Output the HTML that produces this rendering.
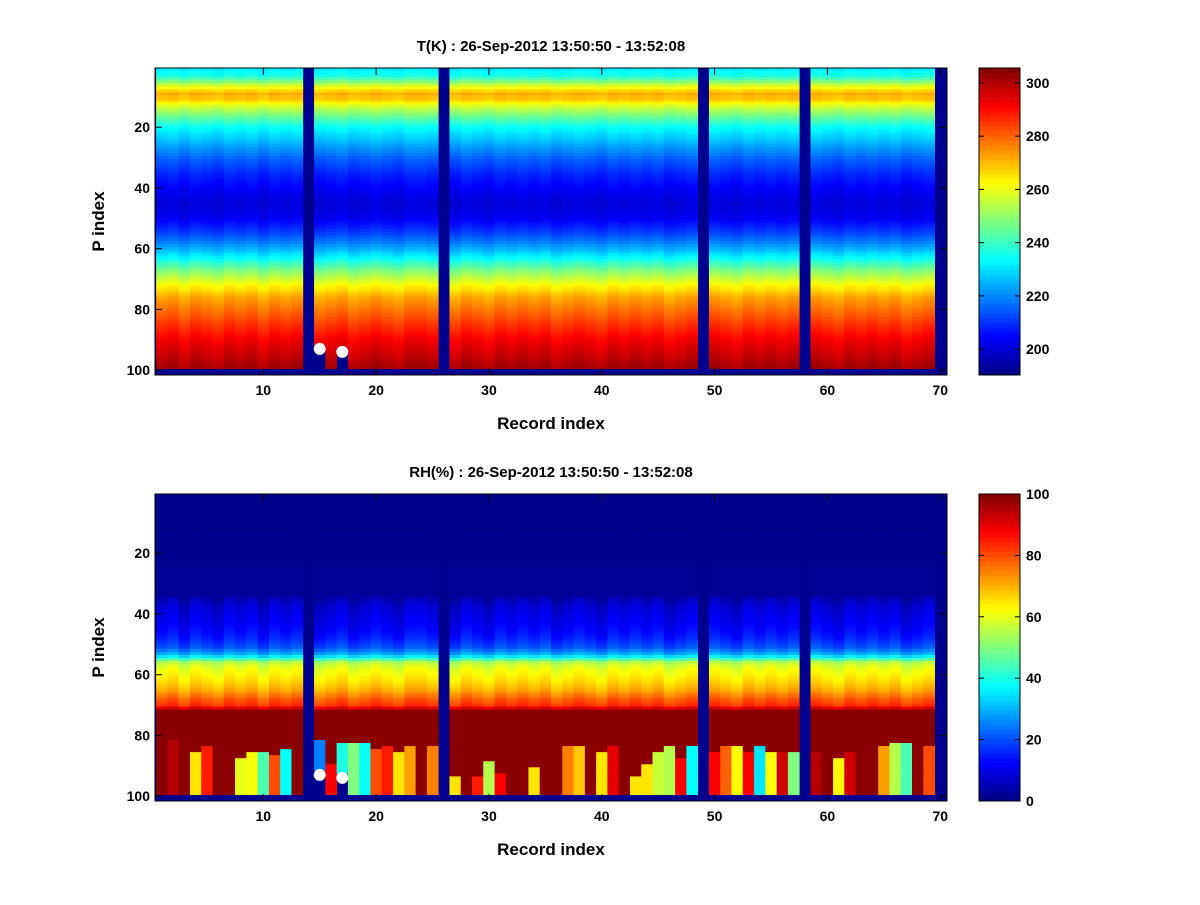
<!DOCTYPE html>
<html><head><meta charset="utf-8"><style>
body{margin:0;background:#fff;}
svg text{font-family:"Liberation Sans",sans-serif;font-weight:bold;fill:#000;}
</style></head><body>
<svg id="fig" width="1200" height="900" xmlns="http://www.w3.org/2000/svg">
<rect width="1200" height="900" fill="#fff"/>
<g id="p1"></g>
<g id="p2"></g>
</svg>
<script>
// ---- data ----
const missingCols = [14, 26, 49, 58, 70];
const cutCols = [15, 17];
const cutFromRow = [92, 93];
const markerX = [15, 17];
const markerY = [93, 94];
const tRows = [1, 3, 5, 7, 9, 11, 13, 16, 20, 25, 30, 35, 40, 45, 50, 55, 60, 63, 67, 72, 76, 80, 85, 90, 95, 99];
const tVals = [232, 236, 248, 262, 271, 268, 258, 247, 234, 225, 216, 209, 204, 200, 203, 212, 224, 233, 247, 262, 272, 278, 285, 292, 297, 301];
const tColOff = [0,1,-1,1,0,-1,1,0,1,-1,1,0,1,0,-1,0,1,-1,0,1,0,-1,1,1,0,0,-1,1,0,-1,1,0,1,0,1,-1,0,1,0,-1,1,0,1,0,1,-1,0,1,0,1,0,-1,1,0,1,0,1,0,1,0,-1,1,0,1,0,1,-1,0,1,0];
const rhRows = [1, 33, 38, 45, 48, 51, 53, 54, 55, 56, 58, 62, 65, 68, 70, 72, 99];
const rhVals = [1, 2, 8, 12, 15, 20, 28, 35, 45, 55, 60, 65, 70, 78, 82, 99, 99];
const rhLow = [99,95,99,65,85,99,99,60,62,45,80,38,99,0,25,88,40,50,38,80,85,65,72,99,75,0,65,99,85,55,88,99,99,65,99,99,75,68,99,65,90,99,65,65,57,55,88,38,0,88,78,62,88,35,62,92,50,0,95,99,63,92,99,99,72,55,45,99,80,0];
const rhStart = [86,82,86,86,84,86,86,88,86,86,87,85,86,86,82,90,83,83,83,85,84,86,84,86,84,86,94,86,94,89,93,86,86,91,86,86,84,84,86,86,84,86,94,90,86,84,88,84,86,86,84,84,86,84,86,86,86,86,86,86,88,86,86,86,84,83,83,86,84,86];
const xTicks = [10,20,30,40,50,60,70];
const yTicks = [20,40,60,80,100];
const tCbTicks = [200,220,240,260,280,300];
const rhCbTicks = [0,20,40,60,80,100];
const tClim = [190.3, 305.6];
const rhClim = [0, 100];

function interp(rows, vals, r){
  for(let i=0;i<rows.length-1;i++){ if(r<=rows[i+1]){const f=(r-rows[i])/(rows[i+1]-rows[i]);return vals[i]+f*(vals[i+1]-vals[i]);} }
  return vals[vals.length-1];
}
function jet(v){
  v=Math.max(0,Math.min(1,v));
  const c=x=>Math.round(255*Math.max(0,Math.min(1,x)));
  return `rgb(${c(1.5-Math.abs(4*v-3))},${c(1.5-Math.abs(4*v-2))},${c(1.5-Math.abs(4*v-1))})`;
}
const NS='http://www.w3.org/2000/svg';
function mk(tag, attrs, parent){const e=document.createElementNS(NS,tag);for(const k in attrs)e.setAttribute(k,attrs[k]);parent.appendChild(e);return e;}

function panel(g, top, title, valueFn, clim, cbTicks, nm){
  const L=155, R=947, B=top+307;
  const xs=v=>L+(v-0.4)*(R-L)/70.2;
  const ys=v=>top+(v-0.5)*(B-top)/101.1;
  const bg=mk('rect',{x:L,y:top,width:R-L,height:B-top,fill:'#00008f'},g);
  
  
  const cp=mk('clipPath',{id:'clip'+nm},g); mk('rect',{x:L,y:top,width:R-L,height:B-top},cp);
  const cells=mk('g',{'clip-path':'url(#clip'+nm+')'},g);
  
  
  for(let c=1;c<=70;c++){
    if(missingCols.includes(c)) continue;
    const ci=cutCols.indexOf(c); const maxRow= ci>=0? cutFromRow[ci]-1 : 99;
    for(let r=1;r<=maxRow;r++){
      const v=valueFn(c,r);
      const x0=xs(c-0.5), x1=xs(c+0.5), y0=ys(r-0.5), y1=ys(r+0.5);
      mk('rect',{x:x0.toFixed(2),y:y0.toFixed(2),width:(x1-x0+0.4).toFixed(2),height:(y1-y0+0.4).toFixed(2),fill:jet((v-clim[0])/(clim[1]-clim[0]))},cells);
    }
  }
  for(let i=0;i<markerX.length;i++){
    const m=mk('circle',{cx:xs(markerX[i]),cy:ys(markerY[i]),r:6,fill:'#fff'},g);
    
    
  }
  mk('rect',{x:L,y:top,width:R-L,height:B-top,fill:'none',stroke:'#000','stroke-width':1},g);
  xTicks.forEach(t=>{const x=xs(t);
    mk('line',{x1:x,y1:B,x2:x,y2:B-7,stroke:'#000'},g);mk('line',{x1:x,y1:top,x2:x,y2:top+7,stroke:'#000'},g);
    const tx=mk('text',{x:x,y:B+20,'text-anchor':'middle','font-size':14},g);tx.textContent=t;
    
    });
  yTicks.forEach(t=>{const y=ys(t);
    mk('line',{x1:L,y1:y,x2:L+7,y2:y,stroke:'#000'},g);mk('line',{x1:R,y1:y,x2:R-7,y2:y,stroke:'#000'},g);
    const tx=mk('text',{x:L-5,y:y+5,'text-anchor':'end','font-size':14},g);tx.textContent=t;
    
    });
  const tt=mk('text',{x:551,y:top-17,'text-anchor':'middle','font-size':15},g);tt.textContent=title;
  
  
  const xl=mk('text',{x:551,y:B+54,'text-anchor':'middle','font-size':17},g);xl.textContent='Record index';
  
  
  const yl=mk('text',{x:0,y:0,'text-anchor':'middle','font-size':17,transform:`translate(104,${(top+B)/2}) rotate(-90)`},g);yl.textContent='P index';
  
  
  const cb=mk('g',{},g);
  
  
  const CL=979, CR=1020, n=64;
  for(let i=0;i<n;i++){
    const y1=B-(i)*(B-top)/n, y0=B-(i+1)*(B-top)/n;
    mk('rect',{x:CL,y:y0,width:CR-CL,height:y1-y0+0.5,fill:jet((i+0.5)/n)},cb);
  }
  mk('rect',{x:CL,y:top,width:CR-CL,height:B-top,fill:'none',stroke:'#000'},cb);
  const cy=v=>B-(v-clim[0])/(clim[1]-clim[0])*(B-top);
  cbTicks.forEach(t=>{const y=cy(t);
    mk('line',{x1:CR,y1:y,x2:CR-5,y2:y,stroke:'#000'},cb);mk('line',{x1:CL,y1:y,x2:CL+5,y2:y,stroke:'#000'},cb);
    const tx=mk('text',{x:CR+6,y:y+5,'font-size':14},cb);tx.textContent=t;
    
    });
}
panel(document.getElementById('p1'), 68, 'T(K) : 26-Sep-2012 13:50:50 - 13:52:08',
  (c,r)=>interp(tRows,tVals,r)+tColOff[c-1]*(r>60?1.5:1), tClim, tCbTicks, 'temperature');
panel(document.getElementById('p2'), 494, 'RH(%) : 26-Sep-2012 13:50:50 - 13:52:08',
  (c,r)=>{ if(r>=rhStart[c-1]) return rhLow[c-1]; let v=interp(rhRows,rhVals,r); if(r>=35&&r<72) v+=tColOff[c-1]*2; return v; }, rhClim, rhCbTicks, 'humidity');
</script>
</body></html>
